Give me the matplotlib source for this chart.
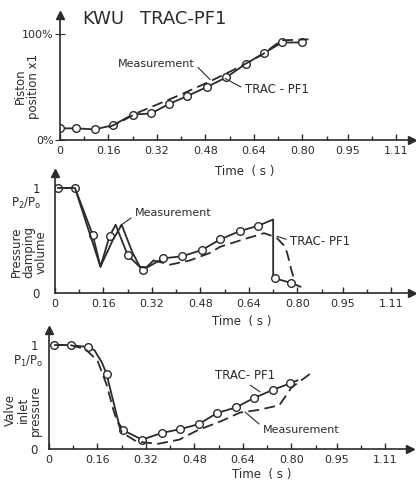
import matplotlib
matplotlib.use("Agg")
import matplotlib.pyplot as plt

W, H = 416, 490
INK = "#2b2b2b"
plt.rcParams['font.family'] = ['DejaVu Sans']

# ---------------- data ----------------
xticks = [0, 0.16, 0.32, 0.48, 0.64, 0.80, 0.95, 1.11]
xticklabels = ["0", "0.16", "0.32", "0.48", "0.64", "0.80", "0.95", "1.11"]
xminor = [0.08, 0.24, 0.40, 0.56, 0.72, 0.88, 1.03]

# Panel 1: piston position x1 (%)
t1_trac = [0.0, 0.053, 0.115, 0.175, 0.24, 0.30, 0.36, 0.42, 0.485, 0.548, 0.614, 0.673, 0.733, 0.80]
x1_trac = [11, 11, 10, 14, 24, 25, 34, 41.5, 50, 59, 72, 82, 92, 92]
t1_meas = [0.16, 0.20, 0.25, 0.30, 0.40, 0.50, 0.60, 0.67, 0.73, 0.82]
x1_meas = [12, 17, 25, 31, 43, 56, 70, 81, 94, 95]

# Panel 2: pressure damping volume P2/P0
t2_circ = [0.01, 0.066, 0.125, 0.15, 0.18, 0.20, 0.24, 0.29, 0.357, 0.42, 0.485, 0.545, 0.61, 0.67, 0.72, 0.72, 0.725, 0.78, 0.81]
p2_circ = [1.0, 1.0, 0.55, 0.25, 0.54, 0.65, 0.36, 0.22, 0.33, 0.35, 0.41, 0.51, 0.59, 0.64, 0.70, 0.16, 0.14, 0.095, 0.06]
m2_circ = [0, 1, 2, 4, 6, 7, 8, 9, 10, 11, 12, 13, 16, 17]
t2_plain_a = [0.01, 0.066, 0.15, 0.19, 0.22, 0.255, 0.28, 0.30, 0.325]
p2_plain_a = [1.0, 1.0, 0.25, 0.50, 0.65, 0.39, 0.25, 0.24, 0.31]
t2_plain_b = [0.325, 0.38, 0.445, 0.51, 0.545, 0.61, 0.69, 0.73, 0.76, 0.77, 0.78, 0.79]
p2_plain_b = [0.31, 0.27, 0.31, 0.38, 0.44, 0.50, 0.57, 0.53, 0.44, 0.34, 0.22, 0.12]

# Panel 3: valve inlet pressure P1/P0
t3_trac = [0.017, 0.073, 0.128, 0.15, 0.175, 0.19, 0.23, 0.245, 0.307, 0.373, 0.432, 0.495, 0.554, 0.617, 0.676, 0.74, 0.795, 0.82]
p3_trac = [1.0, 1.0, 0.98, 0.95, 0.83, 0.72, 0.25, 0.18, 0.09, 0.155, 0.19, 0.24, 0.345, 0.40, 0.49, 0.57, 0.63, 0.66]
m3_trac = [0, 1, 2, 5, 7, 8, 9, 10, 11, 12, 13, 14, 15, 16]
t3_meas = [0.017, 0.07, 0.12, 0.16, 0.19, 0.215, 0.24, 0.29, 0.36, 0.43, 0.49, 0.57, 0.63, 0.69, 0.76, 0.80, 0.865]
p3_meas = [1.0, 1.0, 0.96, 0.85, 0.62, 0.35, 0.16, 0.07, 0.05, 0.09, 0.18, 0.27, 0.35, 0.375, 0.42, 0.59, 0.73]

# ---------------- figure ----------------
fig = plt.figure(figsize=(W / 100, H / 100), dpi=100)
fig.patch.set_facecolor("white")

XS = 303.0  # px per second


def make_ax(ox, oy, xend, ytop, yscale):
    ax = fig.add_axes([ox / W, (H - oy) / H, (xend - ox) / W, (oy - ytop) / H])
    ax.set_xlim(0, (xend - ox) / XS)
    ax.set_ylim(0, (oy - ytop) / yscale)
    ax.patch.set_alpha(0)
    for s in ("top", "right"):
        ax.spines[s].set_visible(False)
    for s in ("left", "bottom"):
        ax.spines[s].set_linewidth(1.2)
        ax.spines[s].set_color(INK)
    ax.plot(1, 0, ">", color=INK, ms=6, transform=ax.transAxes, clip_on=False)
    ax.plot(0, 1, "^", color=INK, ms=6, transform=ax.transAxes, clip_on=False)
    ax.set_xticks(xticks)
    ax.set_xticklabels(xticklabels)
    ax.set_xticks(xminor, minor=True)
    ax.tick_params(axis="x", which="both", direction="in", color=INK, width=1.0,
                   labelsize=8, labelcolor=INK, pad=4)
    ax.tick_params(axis="x", which="major", length=4)
    ax.tick_params(axis="x", which="minor", length=3)
    return ax


def fx(px):
    return px / W


def fy(py):
    return 1 - py / H


lw = 1.3
mk = dict(marker="o", ms=5.5, mfc="white", mec=INK, mew=1.0)
dash = (0, (6, 3))

# ---- title ----
fig.text(fx(82), fy(19), "KWU", fontsize=13, color=INK, va="center", ha="left")
fig.text(fx(140), fy(19), "TRAC-PF1", fontsize=13, color=INK, va="center", ha="left")

# ---- panel 1 ----
ax1 = make_ax(60, 140, 412, 15, 1.06)
ax1.plot(t1_trac, x1_trac, color=INK, lw=lw, **mk)
ax1.plot(t1_meas, x1_meas, color=INK, lw=lw, ls=dash)
ax1.set_yticks([0, 100])
ax1.set_yticklabels(["0%", "100%"])
ax1.tick_params(axis="y", direction="inout", length=7, color=INK, labelsize=8, labelcolor=INK, pad=1)
ax1.annotate("Measurement", xy=(0.495, 57), xytext=(0.19, 72), fontsize=8, color=INK,
             ha="left", va="center",
             arrowprops=dict(arrowstyle="-", color=INK, lw=0.8, relpos=(1, 0.5), shrinkA=1, shrinkB=0))
ax1.annotate("TRAC - PF1", xy=(0.545, 58), xytext=(0.61, 48), fontsize=8.5, color=INK,
             ha="left", va="center",
             arrowprops=dict(arrowstyle="-", color=INK, lw=0.8, relpos=(0, 0.5), shrinkA=1, shrinkB=0))
fig.text(fx(245), fy(172), "Time  ( s )", fontsize=8.5, color=INK, ha="center", va="center")
fig.text(fx(27), fy(86), "Piston\nposition x1", fontsize=8.5, color=INK, rotation=90,
         ha="center", va="center", linespacing=1.0)

# ---- panel 2 ----
ax2 = make_ax(55, 293, 412, 173, 105)
ax2.plot(t2_circ, p2_circ, color=INK, lw=lw, markevery=m2_circ, **mk)
ax2.plot(t2_plain_a, p2_plain_a, color=INK, lw=lw)
ax2.plot(t2_plain_b, p2_plain_b, color=INK, lw=lw, ls=dash)
ax2.set_yticks([0, 1])
ax2.set_yticklabels(["0", "1"])
ax2.tick_params(axis="y", length=0, labelsize=8.5, labelcolor=INK, pad=11)
ax2.annotate("Measurement", xy=(0.215, 0.64), xytext=(0.264, 0.76), fontsize=8, color=INK,
             ha="left", va="center",
             arrowprops=dict(arrowstyle="-", color=INK, lw=0.8, relpos=(0, 0.3), shrinkA=1, shrinkB=0))
ax2.annotate("TRAC- PF1", xy=(0.733, 0.54), xytext=(0.776, 0.486), fontsize=8.5, color=INK,
             ha="left", va="center",
             arrowprops=dict(arrowstyle="-", color=INK, lw=0.8, relpos=(0, 0.6), shrinkA=1, shrinkB=0))
fig.text(fx(242), fy(322), "Time  ( s )", fontsize=8.5, color=INK, ha="center", va="center")
fig.text(fx(29), fy(252), "Pressure\ndamping\nvolume", fontsize=8.5, color=INK, rotation=90,
         ha="center", va="center", linespacing=0.95)
fig.text(fx(26), fy(203), r"$\mathsf{P_2/P_o}$", fontsize=8.5, color=INK, ha="center", va="center")

# ---- panel 3 ----
ax3 = make_ax(49, 449, 410, 330, 104)
ax3.plot(t3_trac, p3_trac, color=INK, lw=lw, markevery=m3_trac, **mk)
ax3.plot(t3_meas, p3_meas, color=INK, lw=lw, ls=dash)
ax3.set_yticks([0, 1])
ax3.set_yticklabels(["0", "1"])
ax3.tick_params(axis="y", length=0, labelsize=8.5, labelcolor=INK, pad=8)
ax3.annotate("TRAC- PF1", xy=(0.696, 0.55), xytext=(0.548, 0.71), fontsize=8.5, color=INK,
             ha="left", va="center",
             arrowprops=dict(arrowstyle="-", color=INK, lw=0.8, relpos=(0.5, 0), shrinkA=1, shrinkB=0))
ax3.annotate("Measurement", xy=(0.647, 0.356), xytext=(0.706, 0.18), fontsize=8, color=INK,
             ha="left", va="center",
             arrowprops=dict(arrowstyle="-", color=INK, lw=0.8, relpos=(0, 0.8), shrinkA=1, shrinkB=0))
fig.text(fx(262), fy(474), "Time  ( s )", fontsize=8.5, color=INK, ha="center", va="center")
fig.text(fx(23), fy(410), "Valve\ninlet\npressure", fontsize=8.5, color=INK, rotation=90,
         ha="center", va="center", linespacing=0.95)
fig.text(fx(28), fy(361), r"$\mathsf{P_1/P_o}$", fontsize=8.5, color=INK, ha="center", va="center")

fig.savefig("out.png", dpi=100, facecolor="white")
